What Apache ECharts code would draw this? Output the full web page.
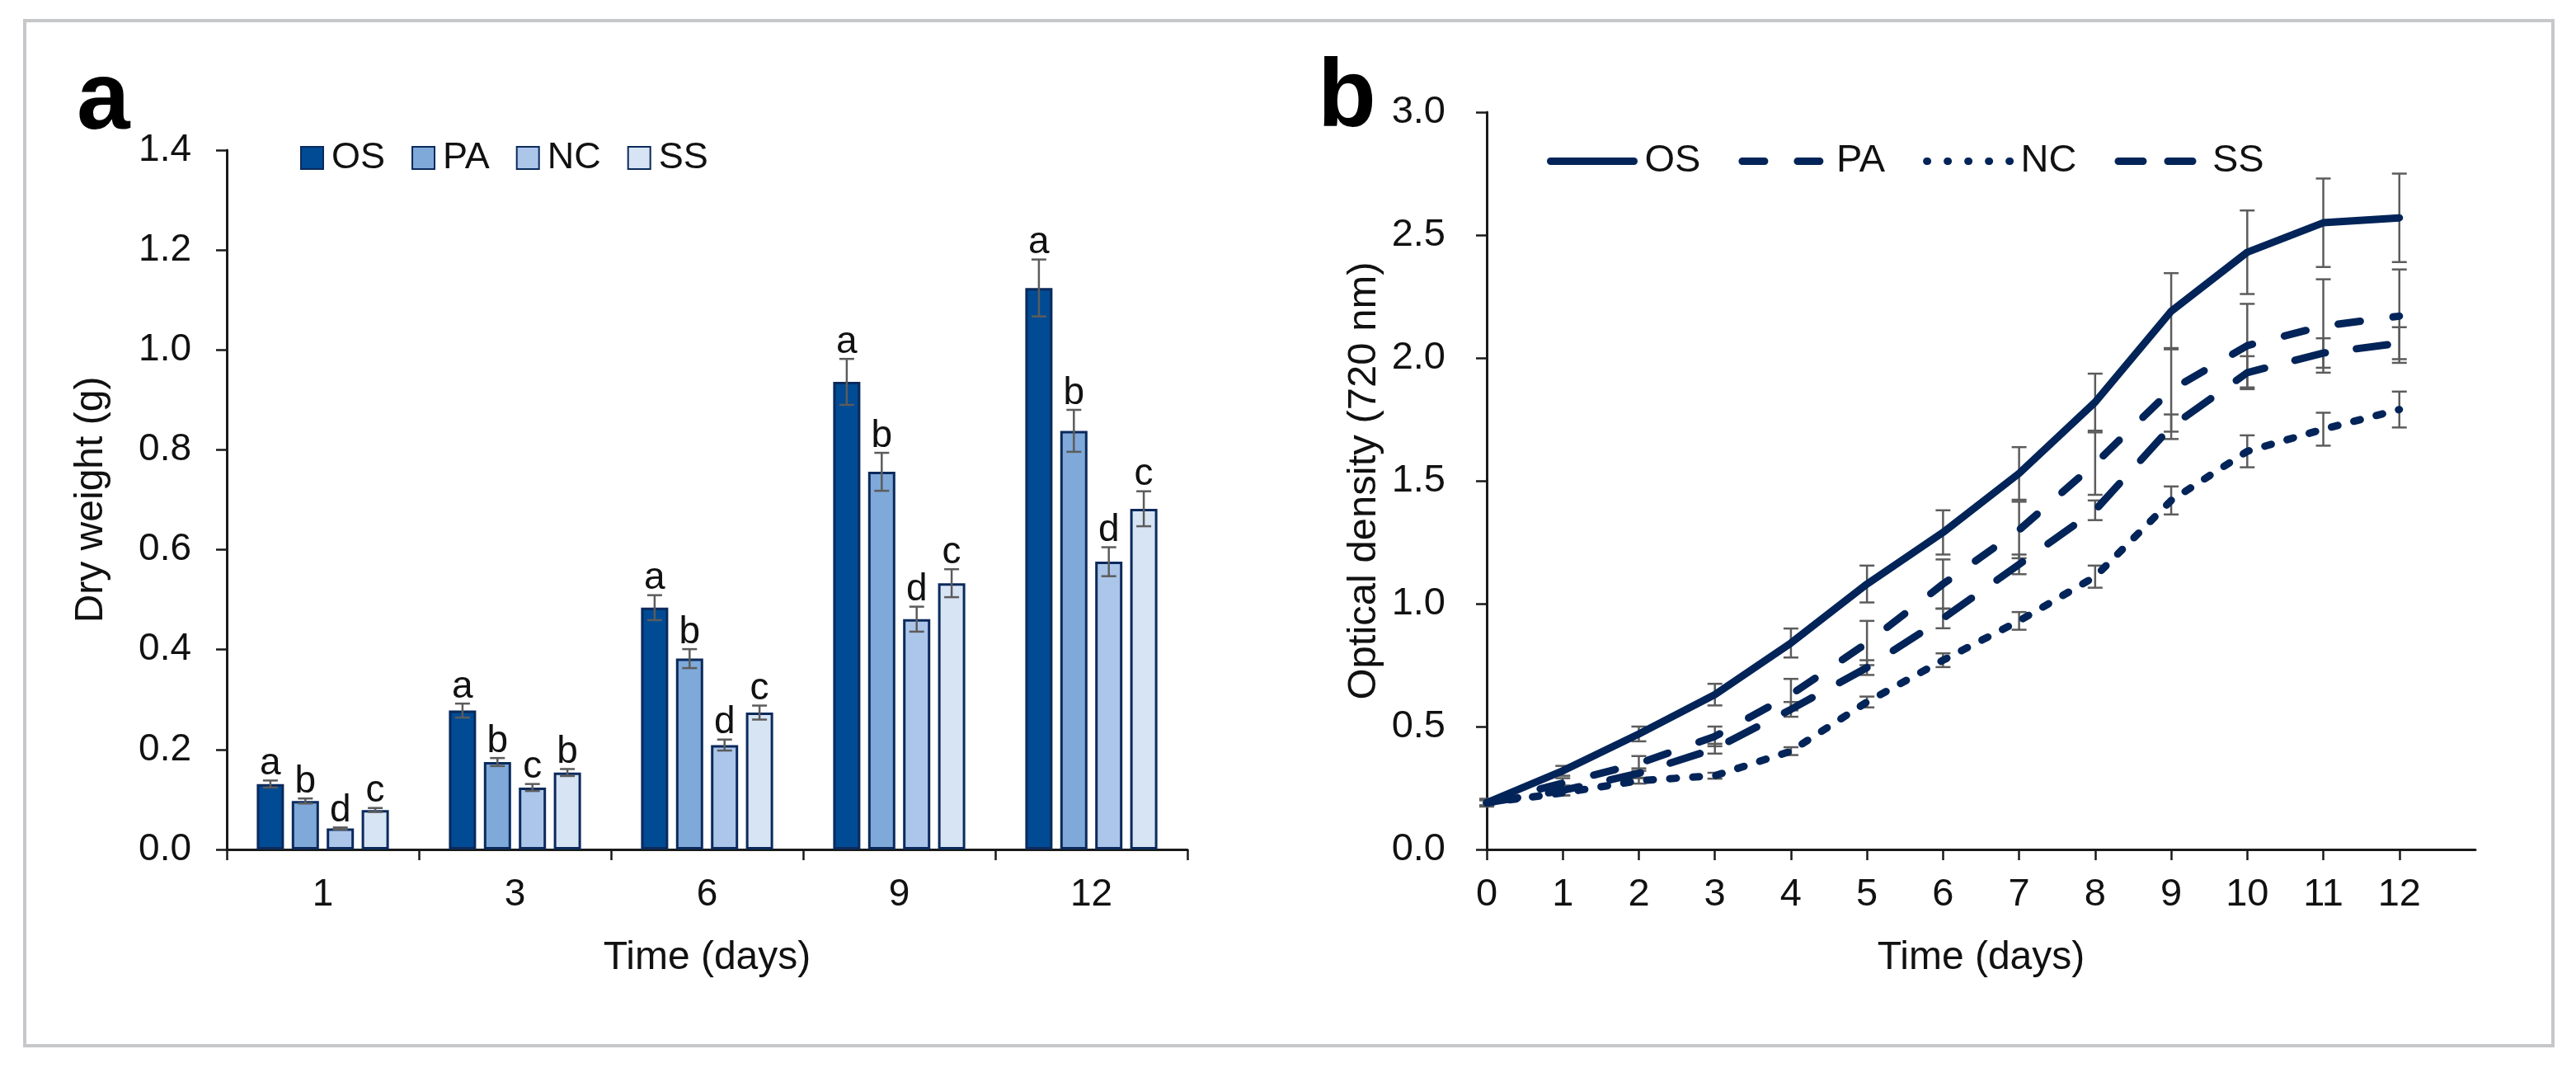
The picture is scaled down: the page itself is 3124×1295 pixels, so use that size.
<!DOCTYPE html>
<html lang="en">
  <head>
    <meta charset="UTF-8" />
    <title>Dry weight and optical density</title>
    <script src="https://cdn.jsdelivr.net/npm/echarts@6/dist/echarts.min.js"></script>
    <style>
      html, body { margin: 0; padding: 0; background: #fff; }
      #main { width: 3124px; height: 1295px; }
    </style>
  </head>
  <body>
    <div id="main"></div>
    <script>
      // panel a: dry weight (g)
      const barDays = ["1", "3", "6", "9", "12"];
      const dryOS = [0.131, 0.278, 0.484, 0.936, 1.124];
      const dryPA = [0.097, 0.175, 0.382, 0.756, 0.838];
      const dryNC = [0.042, 0.124, 0.209, 0.461, 0.576];
      const drySS = [0.079, 0.154, 0.274, 0.533, 0.682];
      const dryErrOS = [0.007, 0.014, 0.025, 0.046, 0.057];
      const dryErrPA = [0.005, 0.008, 0.019, 0.038, 0.042];
      const dryErrNC = [0.002, 0.007, 0.011, 0.025, 0.029];
      const dryErrSS = [0.004, 0.007, 0.014, 0.028, 0.035];
      const lettersOS = ["a", "a", "a", "a", "a"];
      const lettersPA = ["b", "b", "b", "b", "b"];
      const lettersNC = ["d", "c", "d", "d", "d"];
      const lettersSS = ["c", "b", "c", "c", "c"];

      // panel b: optical density (720 nm)
      const odDays = [0, 1, 2, 3, 4, 5, 6, 7, 8, 9, 10, 11, 12];
      const odOS = [0.19, 0.32, 0.47, 0.63, 0.84, 1.08, 1.29, 1.53, 1.82, 2.19, 2.43, 2.55, 2.57];
      const odPA = [0.19, 0.27, 0.35, 0.46, 0.63, 0.84, 1.08, 1.3, 1.57, 1.87, 2.05, 2.13, 2.17];
      const odNC = [0.19, 0.23, 0.28, 0.3, 0.4, 0.6, 0.77, 0.93, 1.11, 1.42, 1.62, 1.71, 1.79];
      const odSS = [0.19, 0.24, 0.31, 0.41, 0.57, 0.74, 0.94, 1.16, 1.38, 1.72, 1.94, 2.02, 2.06];
      const odErrOS = [0.015, 0.02, 0.03, 0.044, 0.059, 0.075, 0.09, 0.107, 0.116, 0.155, 0.17, 0.18, 0.18];
      const odErrPA = [0.015, 0.02, 0.03, 0.04, 0.064, 0.09, 0.1, 0.115, 0.127, 0.17, 0.17, 0.19, 0.19];
      const odErrNC = [0.01, 0.01, 0.012, 0.012, 0.016, 0.022, 0.028, 0.036, 0.045, 0.057, 0.065, 0.067, 0.073];
      const odErrSS = [0.015, 0.02, 0.02, 0.02, 0.03, 0.03, 0.04, 0.04, 0.04, 0.05, 0.067, 0.06, 0.065];

      const FONT = "Liberation Sans, Arial, sans-serif";
      const TXT = "#111111";
      const AXIS = "#1a1a1a";
      const ERR = "#5c5c5c";
      const NAVY = "#022458";
      const BAR_W = 33;
      const BAR_STEP = 42.4; // bar width + gap, in px
      const BAR_GAP = "28.5%";

      const chart = echarts.init(document.getElementById("main"), null, { renderer: "canvas" });

      function barErr(k, letters) {
        return function (params, api) {
          const cat = api.value(0);
          const m = api.value(1);
          const e = api.value(2);
          const t = api.coord([cat, m + e]);
          const b = api.coord([cat, m - e]);
          const x = t[0] + (k - 1.5) * BAR_STEP;
          const st = { stroke: ERR, lineWidth: 2.5 };
          return {
            type: "group",
            children: [
              { type: "line", shape: { x1: x, y1: t[1], x2: x, y2: b[1] }, style: st },
              { type: "line", shape: { x1: x - 9, y1: t[1], x2: x + 9, y2: t[1] }, style: st },
              { type: "line", shape: { x1: x - 9, y1: b[1], x2: x + 9, y2: b[1] }, style: st },
              {
                type: "text",
                x: x,
                y: t[1] + 3,
                style: {
                  text: letters[params.dataIndex],
                  align: "center",
                  verticalAlign: "bottom",
                  fontSize: 46,
                  fontFamily: FONT,
                  fill: TXT,
                },
              },
            ],
          };
        };
      }

      function lineErr(params, api) {
        const xv = api.value(0);
        const m = api.value(1);
        const e = api.value(2);
        const t = api.coord([xv, m + e]);
        const b = api.coord([xv, m - e]);
        const st = { stroke: ERR, lineWidth: 2.5 };
        return {
          type: "group",
          children: [
            { type: "line", shape: { x1: t[0], y1: t[1], x2: t[0], y2: b[1] }, style: st },
            { type: "line", shape: { x1: t[0] - 9, y1: t[1], x2: t[0] + 9, y2: t[1] }, style: st },
            { type: "line", shape: { x1: t[0] - 9, y1: b[1], x2: t[0] + 9, y2: b[1] }, style: st },
          ],
        };
      }

      const barColors = ["#004b93", "#7fa9d9", "#acc6ea", "#d7e4f4"];
      const barNames = ["OS", "PA", "NC", "SS"];
      const barVals = [dryOS, dryPA, dryNC, drySS];
      const barErrs = [dryErrOS, dryErrPA, dryErrNC, dryErrSS];
      const barLetters = [lettersOS, lettersPA, lettersNC, lettersSS];

      const lineVals = [odOS, odPA, odNC, odSS];
      const lineErrs = [odErrOS, odErrPA, odErrNC, odErrSS];
      const lineDash = ["solid", [27, 40], [8, 20], [38, 38]];
      const legendDash = ["solid", [27, 40], [1, 24], [30, 30]];

      const series = [];
      barNames.forEach((n, k) => {
        series.push({
          name: n,
          type: "bar",
          xAxisIndex: 0,
          yAxisIndex: 0,
          barWidth: BAR_W,
          barGap: BAR_GAP,
          itemStyle: { color: barColors[k], borderColor: "#0b2a5c", borderWidth: 3 },
          data: barVals[k],
          z: 2,
        });
      });
      barNames.forEach((n, k) => {
        series.push({
          type: "custom",
          xAxisIndex: 0,
          yAxisIndex: 0,
          renderItem: barErr(k, barLetters[k]),
          data: barVals[k].map((v, i) => [i, v, barErrs[k][i]]),
          z: 5,
          silent: true,
        });
      });
      barNames.forEach((n, k) => {
        series.push({
          type: "custom",
          xAxisIndex: 1,
          yAxisIndex: 1,
          renderItem: lineErr,
          data: odDays.map((d, i) => [d, lineVals[k][i], lineErrs[k][i]]),
          z: 2,
          silent: true,
        });
      });
      barNames.forEach((n, k) => {
        series.push({
          name: n + " ",
          type: "line",
          xAxisIndex: 1,
          yAxisIndex: 1,
          symbol: "none",
          lineStyle: { color: NAVY, width: 9, type: lineDash[k], cap: "round", join: "round" },
          itemStyle: { color: NAVY },
          data: odDays.map((d, i) => [d, lineVals[k][i]]),
          z: 4,
        });
      });

      const tickLabel = (size) => ({ fontSize: size, fontFamily: FONT, color: TXT });
      const axisLine = { show: true, lineStyle: { color: AXIS, width: 3 } };
      const axisTick = { show: true, length: 13, lineStyle: { color: AXIS, width: 2.5 } };

      const option = {
        backgroundColor: "#ffffff",
        animation: false,
        textStyle: { fontFamily: FONT },
        graphic: [
          {
            type: "rect",
            shape: { x: 30, y: 25, width: 3066, height: 1243 },
            style: { fill: "none", stroke: "#c5c7c9", lineWidth: 4 },
          },
          {
            type: "text",
            x: 93,
            y: 124,
            style: { text: "a", fontSize: 116, fontWeight: "bold", fontFamily: FONT, fill: "#000", verticalAlign: "middle" },
          },
          {
            type: "text",
            x: 1598,
            y: 121,
            style: { text: "b", fontSize: 116, fontWeight: "bold", fontFamily: FONT, fill: "#000", verticalAlign: "middle" },
          },
        ],
        legend: [
          {
            data: barNames,
            left: 364,
            top: 169,
            padding: 0,
            itemWidth: 27,
            itemHeight: 27,
            itemGap: 32,
            icon: "rect",
            textStyle: { fontSize: 45, fontFamily: FONT, color: TXT, lineHeight: 27, padding: [0, 0, 0, 5] },
          },
          {
            data: barNames.map((n, k) => ({
              name: n + " ",
              itemStyle: { opacity: 0 },
              lineStyle: { color: NAVY, width: 9, type: legendDash[k], cap: "round" },
            })),
            formatter: (n) => n.trim(),
            left: 1876,
            top: 172,
            padding: 0,
            itemWidth: 101,
            itemHeight: 36,
            itemGap: 46,
            itemStyle: { opacity: 0 },
            textStyle: { fontSize: 47, fontFamily: FONT, color: TXT, lineHeight: 36, padding: [0, 0, 0, 8] },
          },
        ],
        grid: [
          { left: 275, top: 182, width: 1165, height: 848 },
          { left: 1803, top: 136, width: 1199, height: 894 },
        ],
        xAxis: [
          {
            gridIndex: 0,
            type: "category",
            data: barDays,
            axisLine: axisLine,
            axisTick: axisTick,
            axisLabel: { ...tickLabel(46), margin: 32 },
            name: "Time (days)",
            nameLocation: "middle",
            nameGap: 108,
            nameTextStyle: { fontSize: 48, fontFamily: FONT, color: TXT },
          },
          {
            gridIndex: 1,
            type: "value",
            min: 0,
            max: 13,
            interval: 1,
            splitLine: { show: false },
            axisLine: axisLine,
            axisTick: { ...axisTick, customValues: odDays },
            axisLabel: { ...tickLabel(47), margin: 32, customValues: odDays },
            name: "Time (days)",
            nameLocation: "middle",
            nameGap: 108,
            nameTextStyle: { fontSize: 48, fontFamily: FONT, color: TXT },
          },
        ],
        yAxis: [
          {
            gridIndex: 0,
            type: "value",
            min: 0,
            max: 1.4,
            interval: 0.2,
            splitLine: { show: false },
            axisLine: axisLine,
            axisTick: axisTick,
            axisLabel: { ...tickLabel(46), margin: 43, formatter: (v) => v.toFixed(1) },
            name: "Dry weight (g)",
            nameLocation: "middle",
            nameGap: 140,
            nameTextStyle: { fontSize: 48, fontFamily: FONT, color: TXT },
          },
          {
            gridIndex: 1,
            type: "value",
            min: 0,
            max: 3,
            interval: 0.5,
            splitLine: { show: false },
            axisLine: axisLine,
            axisTick: axisTick,
            axisLabel: { ...tickLabel(47), margin: 50, formatter: (v) => v.toFixed(1) },
            name: "Optical density (720 nm)",
            nameLocation: "middle",
            nameGap: 124,
            nameTextStyle: { fontSize: 49, fontFamily: FONT, color: TXT },
          },
        ],
        series: series,
      };

      chart.setOption(option);
    </script>
  </body>
</html>
